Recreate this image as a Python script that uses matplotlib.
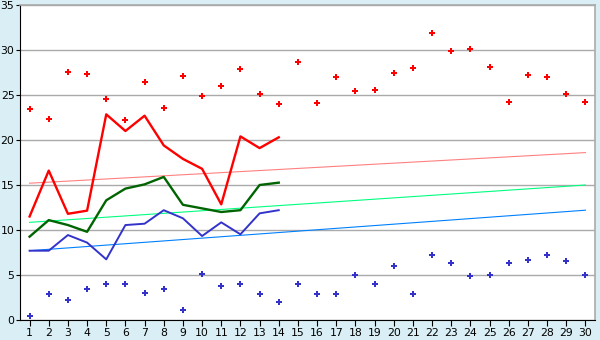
import numpy as np
import matplotlib
matplotlib.use("Agg")
import matplotlib.pyplot as plt

days = list(range(1, 31))

# upper / lower points for every day
high_pts = [23.4, 22.3, 27.6, 27.3, 24.6, 22.2, 26.4, 23.6, 27.1, 24.9,
            26.0, 27.9, 25.1, 24.0, 28.7, 24.1, 27.0, 25.5, 25.6, 27.5,
            28.0, 31.9, 29.9, 30.1, 28.1, 24.2, 27.2, 27.0, 25.1, 24.2]
low_pts = [0.5, 2.85, 2.2, 3.4, 3.96, 3.96, 2.96, 3.5, 1.07, 5.07,
           3.74, 3.96, 2.85, 1.96, 3.96, 2.85, 2.85, 4.96, 3.96, 5.96,
           2.85, 7.18, 6.3, 4.85, 4.96, 6.3, 6.63, 7.18, 6.52, 4.96]

# lines for the first 14 days
line_days = list(range(1, 15))
red_line = [11.5, 16.6, 11.8, 12.15, 22.85, 21.0, 22.7, 19.4, 17.9, 16.8,
            12.85, 20.4, 19.1, 20.3]
green_line = [9.26, 11.1, 10.55, 9.8, 13.3, 14.6, 15.07, 15.9, 12.8, 12.4,
              12.0, 12.2, 15.0, 15.26]
blue_line = [7.7, 7.7, 9.44, 8.6, 6.74, 10.55, 10.7, 12.2, 11.3, 9.33,
             10.85, 9.52, 11.85, 12.2]

# trend lines, value at day 1 and day 30
trend_days = [1, 30]
red_trend = [15.2, 18.6]
green_trend = [10.85, 15.0]
blue_trend = [7.7, 12.2]

BG = "#d9eff5"

fig = plt.figure(figsize=(6, 3.4), dpi=100, facecolor=BG)
ax = fig.add_axes([20 / 600, 20 / 340, 575 / 600, 315 / 340])
ax.set_facecolor("white")

ax.set_xlim(0.5, 30.5)
ax.set_ylim(0, 35)
ax.set_xticks(days)
ax.set_yticks(range(0, 36, 5))
ax.yaxis.grid(True, color="#aaaaaa", lw=1.0)
ax.set_axisbelow(True)

for s in ("top", "right"):
    ax.spines[s].set_color("#aaaaaa")
    ax.spines[s].set_linewidth(1.2)
for s in ("left", "bottom"):
    ax.spines[s].set_color("black")
    ax.spines[s].set_linewidth(0.8)
ax.tick_params(length=4, width=0.8, labelsize=7.8, pad=1.5)
ax.tick_params(axis="y", length=3, pad=1)

ax.plot(trend_days, red_trend, color="#ff8080", lw=0.8)
ax.plot(trend_days, green_trend, color="#00ff80", lw=0.8)
ax.plot(trend_days, blue_trend, color="#0080ff", lw=0.8)

ax.plot(line_days, red_line, color="#ff0000", lw=1.7)
ax.plot(line_days, green_line, color="#006400", lw=1.7)
ax.plot(line_days, blue_line, color="#3333cc", lw=1.4)

ax.plot(days, high_pts, ls="none", marker="P", ms=5, color="#ff0000", mew=0)
ax.plot(days, low_pts, ls="none", marker="P", ms=5, color="#3333cc", mew=0)

fig.savefig("out.png", dpi=100, facecolor=BG)
